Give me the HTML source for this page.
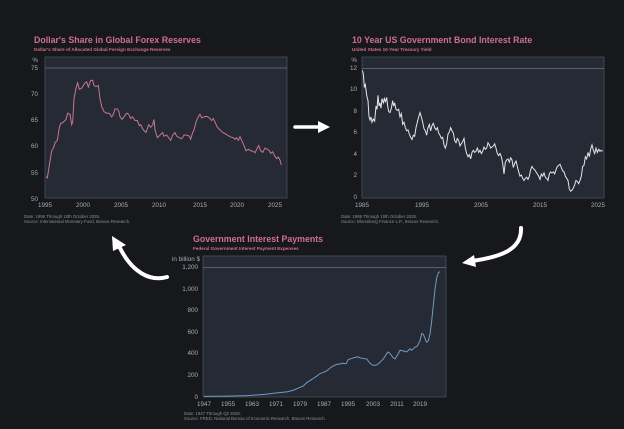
<!DOCTYPE html>
<html><head><meta charset="utf-8"><style>
html,body{margin:0;padding:0;background:#16181c;}
svg{display:block;font-family:"Liberation Sans",sans-serif;}
.t{fill:#d06f8b;font-weight:bold;font-size:8.8px}
.s{fill:#d06f8b;font-weight:bold;font-size:4.6px}
.k{fill:#a9acb4;font-size:6.3px}
.f{fill:#8c8f97;font-size:4.3px}
.pl{fill:#262a35;stroke:#4a4f5c;stroke-width:0.8}
</style></head><body>
<svg width="624" height="429" viewBox="0 0 624 429" xmlns="http://www.w3.org/2000/svg">
<rect width="624" height="429" fill="#16181c"/>

<!-- Chart 1 -->
<text class="t" x="34" y="43">Dollar's Share in Global Forex Reserves</text>
<text class="s" x="34" y="51">Dollar's Share of Allocated Global Foreign Exchange Reserves</text>
<rect class="pl" x="45" y="57" width="242" height="141"/>
<line x1="45" y1="68" x2="287" y2="68" stroke="#6c717d" stroke-width="0.8"/>
<g class="k" text-anchor="end">
<text x="38" y="62">%</text><text x="38" y="70">75</text><text x="38" y="96">70</text><text x="38" y="122">65</text><text x="38" y="148">60</text><text x="38" y="175">55</text><text x="38" y="201">50</text>
</g>
<g class="k" text-anchor="middle">
<text x="45" y="207">1995</text><text x="83" y="207">2000</text><text x="121" y="207">2005</text><text x="159" y="207">2010</text><text x="200" y="207">2015</text><text x="237" y="207">2020</text><text x="275" y="207">2025</text>
</g>
<g transform="translate(20,197.7) scale(0.33333,-5.216) translate(0,-50)">
<polyline fill="none" stroke="#c4788f" stroke-width="1" vector-effect="non-scaling-stroke" points="78,54 82,53.8 90,57 95,59 100,59.5 105,60.5 112,61 118,63.5 122,64.2 130,64.5 138,65 143,66.2 150,66 155,64 158,64.5 162,69 168,71 173,72 178,70.8 185,71 195,72 200,72.2 205,71.2 212,72.5 218,72.5 222,71.5 228,71.3 235,71.5 240,69 245,67.5 252,66.5 260,66.2 268,66.2 275,65.5 280,66 285,67 292,67 297,66.5 300,65.5 306,65 312,65.5 320,66.2 326,66 332,65.2 338,65.5 345,64.8 352,64.8 358,63.8 362,64 370,63 378,62.5 386,64 392,63.5 398,64 402,65 405,63 412,61.5 420,62 428,62.5 432,61.8 440,62 446,61.5 452,61 458,62 465,62.5 470,61.8 478,61.5 485,61.3 492,62 500,62 508,61.8 512,61.2 518,62.5 522,63 528,64.5 535,65.5 540,66 545,65.3 552,65.5 560,65.6 568,65.3 575,64.8 580,65.2 585,64.5 592,63.5 600,63 608,62.5 615,62.3 622,62 630,61.7 640,61.5 645,61.2 650,61.5 655,61 660,61.7 665,61 672,60 678,59 685,59.3 692,59 700,58.9 705,58.6 712,59.5 716,60 722,59 728,58.7 735,59.5 742,59.3 748,59 752,58.5 758,58.8 764,58 770,57.5 775,57.8 780,57.2 784,56.3"/>
</g>
<text class="f" x="24" y="218">Date: 1995 Through 10th October 2025.</text>
<text class="f" x="24" y="223">Source: International Monetary Fund, Bravos Research.</text>

<!-- Chart 2 -->
<text class="t" x="352" y="43">10 Year US Government Bond Interest Rate</text>
<text class="s" x="352" y="51">United States 10-Year Treasury Yield</text>
<rect class="pl" x="362" y="57" width="242" height="141"/>
<line x1="362" y1="68.5" x2="604" y2="68.5" stroke="#6c717d" stroke-width="0.8"/>
<g class="k" text-anchor="end">
<text x="357" y="62">%</text><text x="357" y="70">12</text><text x="357" y="91">10</text><text x="357" y="113">8</text><text x="357" y="134">6</text><text x="357" y="156">4</text><text x="357" y="177">2</text><text x="357" y="199">0</text>
</g>
<g class="k" text-anchor="middle">
<text x="362" y="207">1985</text><text x="422" y="207">1995</text><text x="481" y="207">2005</text><text x="540" y="207">2015</text><text x="598" y="207">2025</text>
</g>
<g transform="translate(330,197.7) scale(0.33333,-10.778)">
<polyline fill="none" stroke="#e6e6ea" stroke-width="1" vector-effect="non-scaling-stroke" points="97,11.8 100,11.5 103,10.3 106,10.5 110,9.5 114,9 117,7.5 120,7.2 123,7.5 126,7 130,7.3 134,7.1 138,8.5 141,8.2 144,9.5 147,8.5 150,8.8 153,8.3 156,9.2 160,8.8 163,9.2 166,8.9 170,9.3 173,8.5 176,8 180,7.9 184,8.3 188,9 191,8.5 194,8.8 198,8.2 202,8.1 206,8.2 210,7.5 214,7.8 218,6.8 222,7 226,6.5 230,6.2 234,6.3 238,5.9 242,5.6 246,5.4 250,5.8 254,5.7 258,6.5 262,7 266,7.5 270,7.9 274,7.5 278,7 282,6.4 286,6.2 290,5.8 294,6.5 298,6.8 302,6.2 306,6.7 310,6.9 314,6.5 318,6.3 322,6.5 326,6 330,5.8 334,5.5 338,5.6 342,4.9 346,4.6 350,5 354,5.9 358,6.1 362,6.5 366,6.2 370,6 374,5.3 378,5.1 382,5.5 386,5.3 390,4.8 394,5 398,5.2 402,5.5 406,4.6 410,4.1 414,3.8 418,4 422,3.6 426,4.2 430,4.4 434,4.2 438,4.3 442,4.6 446,4.2 450,4.4 454,4.1 458,4.3 462,4.7 466,4.5 470,4.6 474,5.1 478,4.9 482,4.6 486,4.7 490,4.8 494,5 498,4.6 502,4.1 506,3.9 510,4.1 514,3.8 518,3.2 522,2.2 526,3.3 530,3.5 534,3.6 538,3.3 542,3.7 546,3.5 550,2.8 554,3.2 558,3.4 562,2.9 566,2.4 570,2 574,2.1 578,1.8 582,1.6 586,1.8 590,1.9 594,1.7 598,2 602,2.6 606,2.9 610,2.7 614,2.6 618,2.4 622,2.2 626,2.0 630,1.7 634,2.2 638,2.0 642,2.3 646,1.9 650,1.8 654,1.6 658,2.2 662,2.4 666,2.3 670,2.4 674,2.2 678,2.6 682,2.9 686,3.0 690,3.1 694,2.8 698,2.5 702,2.4 706,2.0 710,1.8 714,1.6 718,0.8 722,0.6 726,0.7 730,0.9 734,1.2 738,1.6 742,1.5 746,1.3 750,1.6 754,2 758,2.9 762,3 766,3.8 770,3.6 774,4.2 778,3.8 782,4.5 786,4.9 790,4.4 794,4.1 798,4.6 802,4.2 806,4.5 810,4.3 814,4.4 818,4.3"/>
</g>
<text class="f" x="341" y="218">Date: 1985 Through 10th October 2025.</text>
<text class="f" x="341" y="223">Source: Bloomberg Finance L.P., Bravos Research.</text>

<!-- Chart 3 -->
<text class="t" x="193" y="242">Government Interest Payments</text>
<text class="s" x="193" y="250">Federal Government Interest Payment Expenses</text>
<rect class="pl" x="203" y="256" width="243" height="141"/>
<line x1="203" y1="267.5" x2="446" y2="267.5" stroke="#6c717d" stroke-width="0.8"/>
<g class="k" text-anchor="end">
<text x="200" y="261">in billion $</text><text x="198" y="269">1,200</text><text x="198" y="291">1,000</text><text x="198" y="312">800</text><text x="198" y="334">600</text><text x="198" y="355">400</text><text x="198" y="377">200</text><text x="198" y="399">0</text>
</g>
<g class="k" text-anchor="middle">
<text x="204" y="406">1947</text><text x="228" y="406">1955</text><text x="252" y="406">1963</text><text x="276" y="406">1971</text><text x="300" y="406">1979</text><text x="324" y="406">1987</text><text x="348" y="406">1995</text><text x="373" y="406">2003</text><text x="397" y="406">2011</text><text x="420" y="406">2019</text>
</g>
<g transform="translate(160,396.7) scale(0.33333,-0.10778)">
<polyline fill="none" stroke="#6f9bc4" stroke-width="1" vector-effect="non-scaling-stroke" points="132,3 200,5 260,10 310,20 350,35 380,45 400,60 415,80 430,100 440,130 450,150 460,170 470,190 480,215 490,225 500,240 510,265 520,285 530,300 540,305 550,310 558,305 565,345 575,355 585,365 595,370 600,360 610,355 620,350 630,310 640,290 650,295 660,320 670,350 680,400 685,415 690,400 700,360 705,350 715,400 720,430 730,425 740,415 750,445 755,430 765,460 772,470 780,520 785,585 790,580 795,540 800,505 805,520 810,580 815,700 820,850 825,1000 830,1100 835,1150 840,1160"/>
</g>
<text class="f" x="184" y="415">Date: 1947 Through Q2 2025.</text>
<text class="f" x="184" y="420">Source: FRED, National Bureau of Economic Research, Bravos Research.</text>

<!-- Arrows -->
<line x1="295" y1="127" x2="320" y2="127" stroke="#fff" stroke-width="3.5" stroke-linecap="round"/>
<polygon points="318,121 330,127 318,133" fill="#fff"/>
<path d="M167,277 C150,282 132,272 120,248" fill="none" stroke="#fff" stroke-width="4" stroke-linecap="round"/>
<polygon points="112,236 126,245 113,251" fill="#fff"/>
<path d="M521,228 C522,250 500,257 472,261" fill="none" stroke="#fff" stroke-width="4" stroke-linecap="round"/>
<polygon points="462,263 474,255 476,267" fill="#fff"/>
</svg>
</body></html>
